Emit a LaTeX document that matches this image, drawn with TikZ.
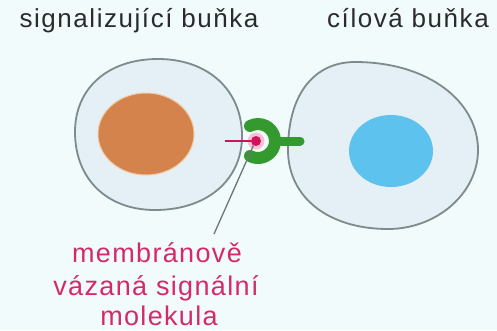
\documentclass[tikz,border=0pt]{standalone}
\usepackage{fontspec}
\setmainfont{Liberation Sans}
\newfontfamily\titlefont[LetterSpace=6]{Liberation Sans}
\newfontfamily\labelfont[LetterSpace=5]{Liberation Sans}
\usetikzlibrary{shapes.geometric}
\definecolor{bgcol}{HTML}{F1FBFB}
\definecolor{cellfill}{HTML}{E4EFF6}
\definecolor{cellline}{HTML}{7C8B8C}
\definecolor{nucorange}{HTML}{D4834C}
\definecolor{nucrim}{HTML}{F0C9A0}
\definecolor{nucblue}{HTML}{5DC2EE}
\definecolor{molred}{HTML}{D0135C}
\definecolor{molglow}{HTML}{F6C3D6}
\definecolor{recgreen}{HTML}{34992E}
\definecolor{textred}{HTML}{D42A6B}
\definecolor{textdark}{HTML}{2B2B2B}
\definecolor{leader}{HTML}{6E7575}
\tikzset{
  cell/.style={draw=cellline, line width=1.8pt, fill=cellfill},
  nucleus/.style={ellipse, inner sep=0pt},
  title/.style={anchor=base, text=textdark, inner sep=0pt,
    font=\titlefont\fontsize{26}{30}\selectfont},
  redline/.style={anchor=base, text=textred, inner sep=0pt,
    font=\labelfont\fontsize{27}{32}\selectfont},
}
\begin{document}
\begin{tikzpicture}[x=1pt,y=-1pt]
\useasboundingbox (0,0) rectangle (497,330);
\fill[bgcol] (0,0) rectangle (497,330);

% signalling cell (left): slightly squared oval
\draw[cell] (158,59)
  .. controls (208,59) and (242,90) .. (242,136)
  .. controls (242,180) and (207,210) .. (155,210)
  .. controls (107,210) and (75,179) .. (75,132)
  .. controls (75,88) and (108,59) .. (158,59) -- cycle;
\node[nucleus, fill=nucorange, draw=nucrim, line width=1pt,
  minimum width=96pt, minimum height=82pt] (nucL) at (146,134) {};

% target cell (right): egg shape with a tighter upper-left corner
\draw[cell] (355,62)
  .. controls (429,62) and (478,102) .. (478,150)
  .. controls (478,193) and (437,229) .. (388,229)
  .. controls (328,229) and (288,197) .. (288,150)
  .. controls (288,93) and (315,62) .. (355,62) -- cycle;
\node[nucleus, fill=nucblue, minimum width=84pt, minimum height=72pt]
  (nucR) at (391,151) {};

% membrane-bound signal molecule
\fill[molglow] (256,141) circle (8.5);
\node[circle, fill=molred, inner sep=0pt, minimum size=10pt] (sigmol) at (256,141) {};
\coordinate (anchorL) at (225,141);
\draw[molred, line width=2.6pt] (anchorL) -- (sigmol);

% receptor on the target cell
\coordinate (recC) at (258,141);
\draw[recgreen, line width=12pt, line cap=round]
  (recC) ++(118:17) arc[start angle=118, end angle=-118, radius=17];
\coordinate (stemA) at (278,141);
\coordinate (stemB) at (300,141);
\draw[recgreen, line width=9pt, line cap=round] (stemA) -- (stemB);

% titles
\node[title] (titleL) at (139,27) {signalizující buňka};
\node[title] (titleR) at (408,27) {cílová buňka};

% label with leader line
\node[redline] (lblA) at (157,262) {membránově};
\node[redline] (lblB) at (156,295) {vázaná signální};
\node[redline] (lblC) at (159,325) {molekula};
\coordinate (lbltip) at (214,234);
\draw[leader, line width=1.3pt] (sigmol.240) -- (lbltip);
\end{tikzpicture}
\end{document}
